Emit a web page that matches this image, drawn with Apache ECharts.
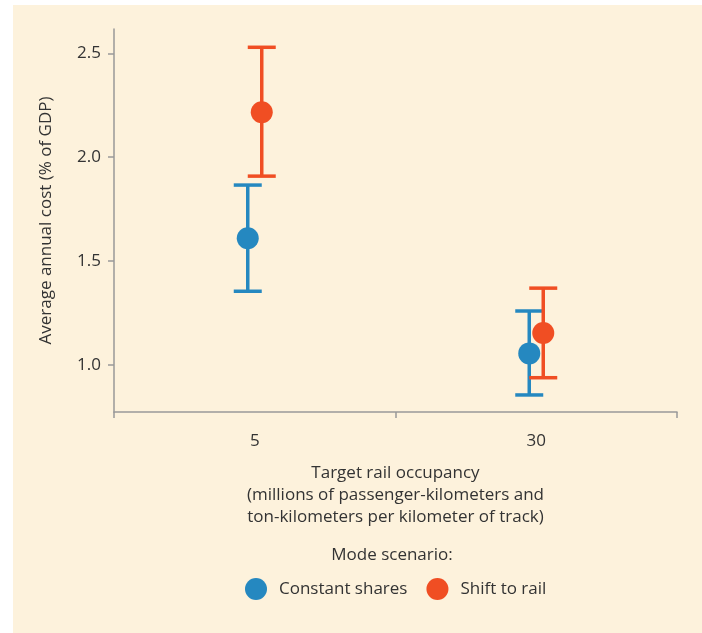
<!DOCTYPE html>
<html>
<head>
<meta charset="utf-8">
<script src="https://cdn.jsdelivr.net/npm/echarts@6/dist/echarts.min.js"></script>
<style>
html,body{margin:0;padding:0;background:#ffffff;}
#c{position:absolute;left:13px;top:5px;width:689px;height:628px;background:#fdf2dc;}
</style>
</head>
<body>
<div id="c"></div>
<script>
const categories = ['5', '30'];
const yTicks = [1.0, 1.5, 2.0, 2.5];
const constantMid = [1.61, 1.056];
const constantLow = [1.355, 0.856];
const constantHigh = [1.866, 1.26];
const shiftMid = [2.216, 1.154];
const shiftLow = [1.909, 0.939];
const shiftHigh = [2.529, 1.37];

const BLUE = '#2588c0';
const ORANGE = '#f04e23';
const TEXT = '#333333';
const FONT = 'Open Sans';
const FS = 17;

function errData(low, high) {
  return categories.map((c, i) => [i, low[i], high[i]]);
}
function ptData(mid) {
  return categories.map((c, i) => [i, mid[i]]);
}
function errRender(offset, color) {
  return function (params, api) {
    const xi = api.value(0);
    const lo = api.coord([xi, api.value(1)]);
    const hi = api.coord([xi, api.value(2)]);
    const x = lo[0] + offset;
    const cap = 14;
    const st = { stroke: color, lineWidth: 3.5 };
    return {
      type: 'group',
      children: [
        { type: 'line', shape: { x1: x, y1: hi[1], x2: x, y2: lo[1] }, style: st },
        { type: 'line', shape: { x1: x - cap, y1: hi[1], x2: x + cap, y2: hi[1] }, style: st },
        { type: 'line', shape: { x1: x - cap, y1: lo[1], x2: x + cap, y2: lo[1] }, style: st }
      ]
    };
  };
}

const chart = echarts.init(document.getElementById('c'), null, { renderer: 'canvas' });
chart.setOption({
  backgroundColor: 'transparent',
  animation: false,
  textStyle: { fontFamily: FONT, color: TEXT },
  grid: { left: 101, right: 25, top: 24, bottom: 221 },
  graphic: [
    { type: 'text', x: 379, y: 550, style: { text: 'Mode scenario:', fill: TEXT, font: FS + 'px "Open Sans"', textAlign: 'center', textVerticalAlign: 'middle' } }
  ],
  legend: {
    data: ['Constant shares', 'Shift to rail'],
    left: 227, top: 568,
    icon: 'circle', itemWidth: 22, itemHeight: 22, itemGap: 19,
    textStyle: { fontFamily: FONT, fontSize: FS, color: TEXT, padding: [0, 0, 0, 7] }
  },
  xAxis: {
    type: 'category',
    data: categories,
    boundaryGap: true,
    axisLine: { lineStyle: { color: '#999999', width: 1.5 } },
    axisTick: { show: true, length: 6, lineStyle: { color: '#999999', width: 1.5 } },
    axisLabel: { color: TEXT, fontSize: FS, fontFamily: FONT, margin: 21 },
    name: 'Target rail occupancy\n(millions of passenger-kilometers and\nton-kilometers per kilometer of track)',
    nameLocation: 'middle',
    nameGap: 50,
    nameTextStyle: { color: TEXT, fontSize: FS, fontFamily: FONT, lineHeight: 22 }
  },
  yAxis: {
    type: 'value',
    min: 0.774, max: 2.617,
    splitLine: { show: false },
    axisLine: { show: true, lineStyle: { color: '#999999', width: 1.5 } },
    axisTick: { show: true, length: 6, lineStyle: { color: '#999999', width: 1.5 }, customValues: yTicks },
    axisLabel: { color: TEXT, fontSize: FS, fontFamily: FONT, margin: 13, customValues: yTicks, formatter: v => v.toFixed(1) },
    name: 'Average annual cost (% of GDP)',
    nameLocation: 'middle',
    nameGap: 59,
    nameTextStyle: { color: TEXT, fontSize: FS, fontFamily: FONT }
  },
  series: [
    { name: 'Constant shares err', type: 'custom', data: errData(constantLow, constantHigh), renderItem: errRender(-7, BLUE), encode: { x: 0, y: [1, 2] }, z: 2 },
    { name: 'Shift to rail err', type: 'custom', data: errData(shiftLow, shiftHigh), renderItem: errRender(7, ORANGE), encode: { x: 0, y: [1, 2] }, z: 2 },
    { name: 'Constant shares', type: 'scatter', data: ptData(constantMid), symbol: 'circle', symbolSize: 22, symbolOffset: [-7, 0], itemStyle: { color: BLUE, opacity: 1 }, z: 3 },
    { name: 'Shift to rail', type: 'scatter', data: ptData(shiftMid), symbol: 'circle', symbolSize: 22, symbolOffset: [7, 0], itemStyle: { color: ORANGE, opacity: 1 }, z: 4 }
  ]
});
</script>
</body>
</html>
